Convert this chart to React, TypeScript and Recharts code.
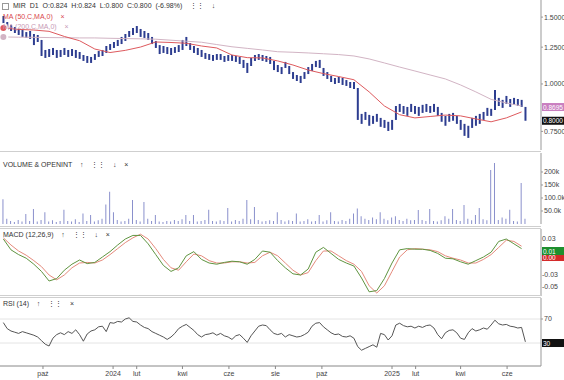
import React from "react"
import { ComposedChart, Bar, Line, XAxis, YAxis, ReferenceLine } from "recharts"

// samples every 5 calendar days, day 0 = 10 Aug 2023
const STEP = 5
const X_DOMAIN: [number, number] = [-4.4, 705.5]

const high = [
  1.51, 1.456, 1.43, 1.412, 1.396, 1.387, 1.37, 1.379, 1.354, 1.346,
  1.306, 1.229, 1.236, 1.244, 1.229, 1.229, 1.244, 1.229, 1.236, 1.229,
  1.214, 1.192, 1.185, 1.178, 1.199, 1.221, 1.229, 1.259, 1.274, 1.29,
  1.306, 1.33, 1.354, 1.379, 1.404, 1.421, 1.396, 1.379, 1.362, 1.33,
  1.298, 1.266, 1.259, 1.251, 1.244, 1.251, 1.266, 1.306, 1.33, 1.282,
  1.259, 1.244, 1.229, 1.207, 1.199, 1.192, 1.199, 1.199, 1.185, 1.192,
  1.192, 1.185, 1.178, 1.157, 1.136, 1.171, 1.192, 1.199, 1.192, 1.185,
  1.178, 1.15, 1.122, 1.108, 1.143, 1.115, 1.075, 1.056, 1.05, 1.075,
  1.108, 1.129, 1.15, 1.157, 1.102, 1.075, 1.05, 1.037, 1.044, 1.037,
  1.024, 1.012, 1.012, 0.976, 0.834, 0.844, 0.829, 0.824, 0.834, 0.814,
  0.804, 0.795, 0.804, 0.875, 0.886, 0.875, 0.87, 0.886, 0.875, 0.87,
  0.881, 0.886, 0.875, 0.886, 0.87, 0.839, 0.824, 0.834, 0.839, 0.824,
  0.804, 0.785, 0.776, 0.814, 0.824, 0.834, 0.844, 0.865, 0.86, 0.964,
  0.919, 0.908, 0.93, 0.913, 0.919, 0.913, 0.908, 0.87,
]
const low = [
  1.404, 1.387, 1.379, 1.362, 1.346, 1.33, 1.322, 1.314, 1.266, 1.29,
  1.185, 1.171, 1.178, 1.192, 1.171, 1.178, 1.192, 1.178, 1.185, 1.171,
  1.164, 1.15, 1.136, 1.136, 1.157, 1.178, 1.185, 1.207, 1.229, 1.244,
  1.259, 1.274, 1.298, 1.33, 1.346, 1.362, 1.33, 1.322, 1.306, 1.274,
  1.244, 1.199, 1.207, 1.199, 1.192, 1.207, 1.214, 1.229, 1.259, 1.229,
  1.207, 1.192, 1.178, 1.164, 1.157, 1.15, 1.157, 1.157, 1.143, 1.15,
  1.15, 1.143, 1.129, 1.102, 1.069, 1.115, 1.15, 1.157, 1.15, 1.143,
  1.129, 1.088, 1.075, 1.062, 1.102, 1.062, 1.031, 1.018, 1.006, 1.031,
  1.062, 1.082, 1.108, 1.102, 1.05, 1.031, 1.012, 1.0, 1.006, 0.994,
  0.988, 0.976, 0.97, 0.804, 0.785, 0.804, 0.776, 0.785, 0.795, 0.771,
  0.766, 0.752, 0.757, 0.804, 0.844, 0.834, 0.824, 0.844, 0.834, 0.824,
  0.839, 0.844, 0.839, 0.844, 0.824, 0.795, 0.776, 0.795, 0.8, 0.785,
  0.757, 0.73, 0.721, 0.766, 0.776, 0.785, 0.804, 0.824, 0.824, 0.854,
  0.875, 0.865, 0.886, 0.87, 0.881, 0.875, 0.87, 0.8,
]

// moving averages, every 20 days
const ma50 = [
  1.404, 1.392, 1.387, 1.376, 1.334, 1.3, 1.236, 1.21, 1.226, 1.251,
  1.29, 1.286, 1.28, 1.259, 1.244, 1.192, 1.173, 1.171, 1.15, 1.122,
  1.088, 1.065, 1.046, 1.026, 0.953, 0.875, 0.83, 0.814, 0.821, 0.828,
  0.824, 0.809, 0.795, 0.814, 0.844,
]
const ma200 = [
  1.33, 1.328, 1.327, 1.325, 1.324, 1.322, 1.322, 1.319, 1.317, 1.315,
  1.312, 1.304, 1.296, 1.288, 1.27, 1.253, 1.241, 1.229, 1.216, 1.212,
  1.207, 1.201, 1.195, 1.185, 1.164, 1.136, 1.108, 1.082, 1.056, 1.031,
  0.994, 0.953, 0.911, 0.891, 0.875,
]

// volume in thousands
const volume = [
  95, 20, 12, 8, 15, 10, 38, 12, 58, 10,
  15, 45, 10, 14, 8, 12, 55, 12, 10, 18,
  8, 40, 12, 35, 10, 14, 20, 75, 124, 45,
  15, 10, 12, 20, 92, 15, 10, 85, 20, 12,
  35, 10, 8, 12, 10, 15, 12, 18, 35, 12,
  35, 10, 12, 15, 55, 12, 10, 14, 12, 62,
  10, 15, 12, 20, 92, 18, 65, 15, 10, 12,
  14, 12, 45, 15, 10, 14, 12, 40, 10, 12,
  18, 10, 12, 35, 10, 14, 45, 12, 10, 15,
  12, 20, 40, 60, 30, 20, 15, 25, 18, 45,
  20, 14, 25, 30, 15, 12, 20, 14, 15, 54,
  15, 12, 58, 12, 10, 14, 30, 20, 58, 15,
  12, 73, 20, 14, 35, 62, 18, 14, 208, 235,
  15, 25, 20, 55, 12, 10, 158, 20,
]

// MACD (12,26,9), every 10 days
const macd = [
  0.03, 0.012, 0.004, -0.002, -0.012, -0.024, -0.04, -0.036, -0.022, -0.012,
  -0.005, -0.011, -0.009, 0.0, 0.009, 0.02, 0.03, 0.036, 0.036, 0.022,
  0.004, -0.014, -0.024, -0.018, 0.002, 0.009, -0.004, -0.01, -0.012, -0.009,
  -0.007, -0.008, -0.012, -0.004, 0.01, 0.008, -0.006, -0.018, -0.028, -0.03,
  -0.02, 0.008, 0.016, 0.006, -0.004, -0.01, -0.015, -0.035, -0.058, -0.056,
  -0.036, -0.01, 0.012, 0.014, 0.013, 0.013, 0.011, 0.006, -0.002, -0.003,
  -0.008, -0.012, -0.006, 0.0, 0.008, 0.026, 0.03, 0.022, 0.014,
]
const signal = [
  0.032, 0.02, 0.01, 0.003, -0.006, -0.016, -0.03, -0.038, -0.03, -0.018,
  -0.01, -0.009, -0.01, -0.005, 0.004, 0.014, 0.024, 0.032, 0.038, 0.03,
  0.014, -0.004, -0.018, -0.022, -0.008, 0.005, 0.002, -0.006, -0.01, -0.01,
  -0.008, -0.008, -0.01, -0.009, 0.002, 0.008, 0.002, -0.01, -0.022, -0.03,
  -0.026, -0.006, 0.01, 0.01, 0.002, -0.006, -0.012, -0.024, -0.048, -0.06,
  -0.048, -0.024, 0.0, 0.012, 0.014, 0.013, 0.012, 0.009, 0.002, -0.002,
  -0.005, -0.01, -0.01, -0.004, 0.004, 0.016, 0.028, 0.026, 0.018,
]

// RSI (14)
const rsi = [
  64, 54, 50, 48, 46, 49, 47, 45, 43, 40,
  34, 28, 25, 38, 44, 47, 44, 49, 46, 52,
  44, 33, 45, 50, 52, 57, 58, 49, 64, 63,
  66, 65, 70, 72, 66, 65, 60, 56, 54, 49,
  46, 43, 40, 36, 40, 46, 54, 58, 61, 56,
  51, 44, 40, 44, 45, 47, 43, 46, 42, 40,
  36, 42, 44, 38, 31, 42, 50, 58, 60, 59,
  52, 46, 44, 46, 40, 44, 42, 40, 41, 44,
  48, 58, 63, 64, 57, 52, 47, 44, 45, 41,
  40, 42, 38, 24, 18, 21, 24, 27, 23, 46,
  44, 35, 42, 60, 63, 59, 57, 58, 55, 58,
  56, 59, 60, 55, 44, 37, 47, 51, 52, 47,
  38, 36, 47, 54, 50, 52, 55, 53, 60, 68,
  62, 60, 61, 58, 57, 55, 56, 32,
]

const monthTicks = [52, 144, 175, 235, 296, 357, 418, 510, 541, 600, 661]
const monthLabels = ["paź", "2024", "lut", "kwi", "cze", "sie", "paź", "2025", "lut", "kwi", "cze"]
const priceTicks = [0.75, 1.0, 1.25, 1.5]
const volTicks = [50, 100, 150, 200]
const volTickLabels = ["50.0k", "100.0k", "150k", "200k"]
const macdTicks = [0.03, -0.03, -0.05]
const rsiTicks = [70]

const priceRows = high.map((h, i) => ({
  day: i * STEP,
  range: [low[i], h],
  ma50: i % 4 === 0 ? ma50[i / 4] : undefined,
  ma200: i % 4 === 0 ? ma200[i / 4] : undefined,
}))
const volRows = volume.map((v, i) => ({ day: i * STEP, vol: v }))
const macdRows = macd.map((m, i) => ({ day: i * STEP * 2, macd: m, signal: signal[i] }))
const rsiRows = rsi.map((r, i) => ({ day: i * STEP, rsi: r }))

const MACD_TOP = 229
const MACD_H = 67
const MACD_DOMAIN: [number, number] = [-0.065, 0.0467]
const macdY = (v: number) => MACD_TOP + ((MACD_DOMAIN[1] - v) / (MACD_DOMAIN[1] - MACD_DOMAIN[0])) * MACD_H

const FONT = "'Liberation Sans', Arial, sans-serif"
const tickStyle = { fontSize: 7, fill: "#444", fontFamily: FONT }
const M = { top: 0, right: 0, bottom: 0, left: 0 }

function Badge(props: any) {
  const { viewBox, text, bg } = props
  const x = viewBox.x + viewBox.width + 1
  return (
    <g>
      <rect x={x} y={viewBox.y - 4} width={22} height={8} fill={bg} />
      <text x={x + 1} y={viewBox.y + 2.5} fill="#fff" fontSize={6.5} fontFamily={FONT}>
        {text}
      </text>
    </g>
  )
}

const label = (top: number, left: number, text: string, color = "#333") => (
  <div style={{ position: "absolute", top, left, fontSize: 7, color, fontFamily: FONT, whiteSpace: "pre", lineHeight: "8px" }}>
    {text}
  </div>
)

const sep = (top: number) => (
  <div style={{ position: "absolute", top, left: 0, width: 541, height: 1, background: "#cfcfcf" }} />
)

export default function App() {
  return (
    <div style={{ position: "absolute", left: 0, top: 0, width: 564, height: 380, background: "#fff", overflow: "hidden" }}>
      <div style={{ position: "absolute", top: 0 }}>
        <ComposedChart width={564} height={150} data={priceRows} margin={M}>
          <XAxis dataKey="day" type="number" domain={X_DOMAIN} hide />
          <YAxis
            orientation="right"
            width={23}
            scale="log"
            domain={[0.67, 1.664]}
            allowDataOverflow
            ticks={priceTicks}
            interval={0}
            tickFormatter={(v: number) => v.toFixed(4)}
            tick={tickStyle}
            tickSize={2}
            tickMargin={1}
            stroke="#999"
          />
          <Line dataKey="ma200" stroke="#d2b4c4" strokeWidth={1} dot={false} connectNulls isAnimationActive={false} />
          <Bar dataKey="range" fill="#2d3d90" barSize={2} isAnimationActive={false} />
          <Line dataKey="ma50" stroke="#de5a5e" strokeWidth={1} dot={false} connectNulls isAnimationActive={false} />
          <ReferenceLine y={0.8695} stroke="none" label={<Badge text="0.8695" bg="#c97fc0" />} />
          <ReferenceLine y={0.8} stroke="none" label={<Badge text="0.8000" bg="#111" />} />
        </ComposedChart>
      </div>

      <div style={{ position: "absolute", top: 153 }}>
        <ComposedChart width={564} height={71} data={volRows} margin={M}>
          <XAxis dataKey="day" type="number" domain={X_DOMAIN} hide />
          <YAxis
            orientation="right"
            width={23}
            domain={[0, 273]}
            allowDataOverflow
            ticks={volTicks}
            interval={0}
            tickFormatter={(v: number) => volTickLabels[volTicks.indexOf(v)]}
            tick={tickStyle}
            tickSize={2}
            tickMargin={1}
            stroke="#999"
          />
          <Bar dataKey="vol" fill="#8a90cc" barSize={1} isAnimationActive={false} />
        </ComposedChart>
      </div>

      <div style={{ position: "absolute", top: MACD_TOP }}>
        <ComposedChart width={564} height={MACD_H} data={macdRows} margin={M}>
          <XAxis dataKey="day" type="number" domain={X_DOMAIN} hide />
          <YAxis orientation="right" width={23} domain={MACD_DOMAIN} allowDataOverflow tick={false} stroke="#999" />
          <Line dataKey="signal" stroke="#e58a7c" strokeWidth={1} dot={false} isAnimationActive={false} />
          <Line dataKey="macd" stroke="#5f9440" strokeWidth={1} dot={false} isAnimationActive={false} />
          <ReferenceLine y={0.0} stroke="none" label={<Badge text="0.00" bg="#d42a2a" />} />
          <ReferenceLine y={0.01} stroke="none" label={<Badge text="0.01" bg="#1d8f2e" />} />
        </ComposedChart>
      </div>

      <div style={{ position: "absolute", top: 298 }}>
        <ComposedChart width={564} height={82} data={rsiRows} margin={M}>
          <XAxis
            dataKey="day"
            type="number"
            domain={X_DOMAIN}
            ticks={monthTicks}
            interval={0}
            tickFormatter={(v: number) => monthLabels[monthTicks.indexOf(v)]}
            tick={tickStyle}
            tickSize={3}
            height={14}
            stroke="#888"
          />
          <YAxis
            orientation="right"
            width={23}
            domain={[-8.3, 105]}
            allowDataOverflow
            ticks={rsiTicks}
            interval={0}
            tick={tickStyle}
            tickSize={2}
            tickMargin={1}
            stroke="#999"
          />
          <ReferenceLine y={70} stroke="#e4e4e4" />
          <ReferenceLine y={30} stroke="#e4e4e4" />
          <Line dataKey="rsi" stroke="#555" strokeWidth={1} dot={false} isAnimationActive={false} />
          <ReferenceLine y={30} stroke="none" label={<Badge text="30" bg="#111" />} />
        </ComposedChart>
      </div>

      {macdTicks.map((t) => (
        <div
          key={"m" + t}
          style={{
            position: "absolute",
            zIndex: 5,
            top: macdY(t) - 4,
            left: 542,
            fontSize: 7,
            lineHeight: "8px",
            color: "#444",
            fontFamily: FONT,
            whiteSpace: "pre",
          }}
        >
          {t.toFixed(2)}
        </div>
      ))}

      {sep(151)}
      {sep(226)}
      {sep(228)}
      {sep(295)}
      {sep(297)}
      <div style={{ position: "absolute", top: 3, left: 2, width: 5, height: 5, border: "1px solid #999" }} />
      {label(2, 13, "MIR  D1  O:0.824  H:0.824  L:0.800  C:0.800  (-6.98%)    ⋮⋮    ↓")}
      {label(13, 3, "MA (50,C,MA,0)    ×", "#d9464e")}
      {label(23, 3, "MA (200,C,MA,0)    ×", "#c79ab6")}
      {label(161, 3, "VOLUME & OPENINT    ↑    ⋮⋮    ↓    ×")}
      {label(231, 3, "MACD (12,26,9)    ↑    ⋮⋮    ↓    ×")}
      {label(300, 3, "RSI (14)    ↑    ⋮⋮    ×")}
    </div>
  )
}
